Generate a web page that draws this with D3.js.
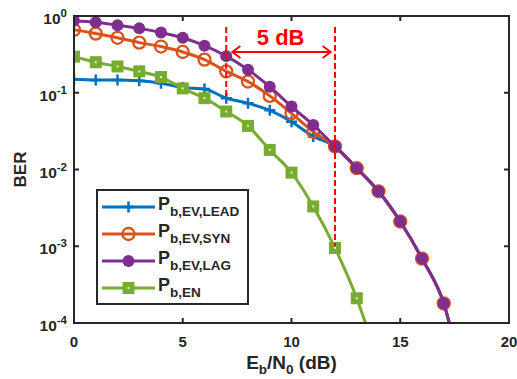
<!DOCTYPE html>
<meta charset="utf-8">
<style>
    body { margin: 0; background: #fff; }
    svg { display: block; font-family: "Liberation Sans", Arial, sans-serif; font-weight: bold; }
</style>
<body>
<script src="https://cdn.jsdelivr.net/npm/d3@7"></script>
<script>
    // data
    var ebn0 = [0, 1, 2, 3, 4, 5, 6, 7, 8, 9, 10, 11, 12, 13, 14, 15, 16, 17, 18];
    var pLead = [0.15, 0.147, 0.147, 0.143, 0.133, 0.117, 0.112, 0.085, 0.073, 0.059, 0.042, 0.027, 0.020, 0.0104, 0.0052, 0.0021, 6.9e-4, 1.8e-4, 1.2e-5];
    var pSyn = [0.66, 0.59, 0.52, 0.45, 0.40, 0.34, 0.27, 0.19, 0.14, 0.091, 0.054, 0.031, 0.020, 0.0104, 0.0052, 0.0021, 6.9e-4, 1.8e-4, 1.2e-5];
    var pLag = [0.87, 0.83, 0.76, 0.69, 0.61, 0.52, 0.41, 0.30, 0.20, 0.12, 0.066, 0.038, 0.020, 0.0104, 0.0052, 0.0021, 6.9e-4, 1.8e-4, 1.2e-5];
    var pEn = [0.295, 0.25, 0.22, 0.19, 0.16, 0.114, 0.085, 0.057, 0.037, 0.018, 0.0091, 0.0033, 9.5e-4, 2.1e-4, 3e-5];
    var xTicks = [0, 5, 10, 15, 20];
    var yTicks = [0, -1, -2, -3, -4];

    var width = 517, height = 379;
    var mLeft = 74, mRight = 509, mTop = 16, mBottom = 323;

    var x = d3.scaleLinear().domain([0, 20]).range([mLeft, mRight]);
    var y = d3.scaleLog().domain([1e-4, 1]).range([mBottom, mTop]);

    var series = [
        { name: "b,EV,LEAD", vals: pLead, color: "#0072BD", marker: "plus" },
        { name: "b,EV,SYN", vals: pSyn, color: "#D95319", marker: "ring" },
        { name: "b,EV,LAG", vals: pLag, color: "#7E2F8E", marker: "dot" },
        { name: "b,EN", vals: pEn, color: "#77AC30", marker: "square" }
    ];

    var svg = d3.select("body").append("svg")
        .attr("width", width)
        .attr("height", height);

    svg.append("clipPath").attr("id", "clip")
        .append("rect")
        .attr("x", mLeft).attr("y", mTop)
        .attr("width", mRight - mLeft).attr("height", mBottom - mTop);

    function drawMarker(g, kind, color, cx, cy) {
        if (kind == "plus") {
            g.append("path")
                .attr("d", "M" + (cx - 5.5) + "," + cy + "H" + (cx + 5.5) + "M" + cx + "," + (cy - 5.5) + "V" + (cy + 5.5))
                .attr("stroke", color).attr("stroke-width", 2.5);
        } else if (kind == "ring") {
            g.append("circle").attr("cx", cx).attr("cy", cy).attr("r", 6)
                .attr("fill", "none").attr("stroke", color).attr("stroke-width", 2.3);
        } else if (kind == "dot") {
            g.append("circle").attr("cx", cx).attr("cy", cy).attr("r", 6)
                .attr("fill", color);
        } else {
            g.append("rect").attr("x", cx - 6).attr("y", cy - 6)
                .attr("width", 12).attr("height", 12).attr("fill", color);
            g.append("rect").attr("x", cx - 1).attr("y", cy - 1)
                .attr("width", 2).attr("height", 2).attr("fill", "#dfeecb");
        }
    }

    var plot = svg.append("g").attr("clip-path", "url(#clip)");
    var line = d3.line()
        .x(function(d) { return x(d[0]); })
        .y(function(d) { return y(d[1]); })
        .curve(d3.curveMonotoneX);

    series.forEach(function(s) {
        var pts = s.vals.map(function(v, i) { return [ebn0[i], v]; });
        var g = plot.append("g");
        g.append("path")
            .attr("d", line(pts))
            .attr("fill", "none")
            .attr("stroke", s.color)
            .attr("stroke-width", 3);
        pts.forEach(function(p) {
            drawMarker(g, s.marker, s.color, x(p[0]), y(p[1]));
        });
    });

    // axes box + inward ticks
    var axisColor = "#262626";
    var ax = svg.append("g");
    ax.append("rect")
        .attr("x", mLeft).attr("y", mTop)
        .attr("width", mRight - mLeft).attr("height", mBottom - mTop)
        .attr("fill", "none").attr("stroke", axisColor).attr("stroke-width", 2);

    xTicks.forEach(function(t) {
        ax.append("line").attr("x1", x(t)).attr("x2", x(t)).attr("y1", mBottom).attr("y2", mBottom - 5)
            .attr("stroke", axisColor).attr("stroke-width", 2);
        ax.append("line").attr("x1", x(t)).attr("x2", x(t)).attr("y1", mTop).attr("y2", mTop + 5)
            .attr("stroke", axisColor).attr("stroke-width", 2);
        ax.append("text")
            .attr("x", x(t)).attr("y", mBottom + 24)
            .attr("text-anchor", "middle")
            .attr("font-size", 15)
            .attr("fill", axisColor)
            .text(t);
    });

    yTicks.forEach(function(p) {
        var yy = y(Math.pow(10, p));
        ax.append("line").attr("x1", mLeft).attr("x2", mLeft + 5).attr("y1", yy).attr("y2", yy)
            .attr("stroke", axisColor).attr("stroke-width", 2);
        ax.append("line").attr("x1", mRight).attr("x2", mRight - 5).attr("y1", yy).attr("y2", yy)
            .attr("stroke", axisColor).attr("stroke-width", 2);
        var tx = ax.append("text")
            .attr("x", mLeft - 7).attr("y", yy + 8)
            .attr("text-anchor", "end")
            .attr("font-size", 15.5)
            .attr("fill", axisColor);
        tx.append("tspan").text("10");
        tx.append("tspan").attr("dy", -7).attr("font-size", 11.5).text(p == 0 ? "0" : "-" + (-p));
    });

    // axis labels
    svg.append("text")
        .attr("transform", "translate(26," + ((mTop + mBottom) / 2) + ") rotate(-90)")
        .attr("text-anchor", "middle")
        .attr("font-size", 17)
        .attr("fill", axisColor)
        .text("BER");

    var xl = svg.append("text")
        .attr("x", (mLeft + mRight) / 2).attr("y", 369)
        .attr("text-anchor", "middle")
        .attr("font-size", 19)
        .attr("fill", axisColor);
    xl.append("tspan").text("E");
    xl.append("tspan").attr("dy", 5).attr("font-size", 13.5).text("b");
    xl.append("tspan").attr("dy", -5).text("/N");
    xl.append("tspan").attr("dy", 5).attr("font-size", 13.5).text("0");
    xl.append("tspan").attr("dy", -5).text(" (dB)");

    // 5 dB annotation
    var red = "#FF0000";
    var ann = svg.append("g");
    ann.append("line")
        .attr("x1", x(7)).attr("x2", x(7)).attr("y1", y(0.72)).attr("y2", y(0.085))
        .attr("stroke", red).attr("stroke-width", 2).attr("stroke-dasharray", "6,3");
    ann.append("line")
        .attr("x1", x(12)).attr("x2", x(12)).attr("y1", y(0.72)).attr("y2", y(1e-3))
        .attr("stroke", red).attr("stroke-width", 2).attr("stroke-dasharray", "6,3");
    var ay = y(0.34), ax1 = x(7.28), ax2 = x(11.8);
    ann.append("path")
        .attr("d", "M" + ax1 + "," + ay + "H" + ax2 +
            "M" + (ax1 + 8) + "," + (ay - 6) + "L" + ax1 + "," + ay + "L" + (ax1 + 8) + "," + (ay + 6) +
            "M" + (ax2 - 8) + "," + (ay - 6) + "L" + ax2 + "," + ay + "L" + (ax2 - 8) + "," + (ay + 6))
        .attr("fill", "none").attr("stroke", red).attr("stroke-width", 2);
    ann.append("text")
        .attr("x", x(9.5)).attr("y", y(0.42))
        .attr("text-anchor", "middle")
        .attr("font-size", 22)
        .attr("fill", red)
        .text("5 dB");

    // legend
    var lg = svg.append("g");
    lg.append("rect")
        .attr("x", 97).attr("y", 190).attr("width", 151).attr("height", 114)
        .attr("fill", "#fff").attr("stroke", axisColor).attr("stroke-width", 2);
    series.forEach(function(s, i) {
        var ly = 207 + i * 27;
        lg.append("line").attr("x1", 102).attr("x2", 155).attr("y1", ly).attr("y2", ly)
            .attr("stroke", s.color).attr("stroke-width", 3);
        drawMarker(lg, s.marker, s.color, 128.5, ly);
        var t = lg.append("text").attr("x", 158).attr("y", ly + 3)
            .attr("font-size", 18).attr("fill", axisColor);
        t.append("tspan").text("P");
        t.append("tspan").attr("dy", 6).attr("font-size", 13.5).text(s.name);
    });
</script>
</body>
